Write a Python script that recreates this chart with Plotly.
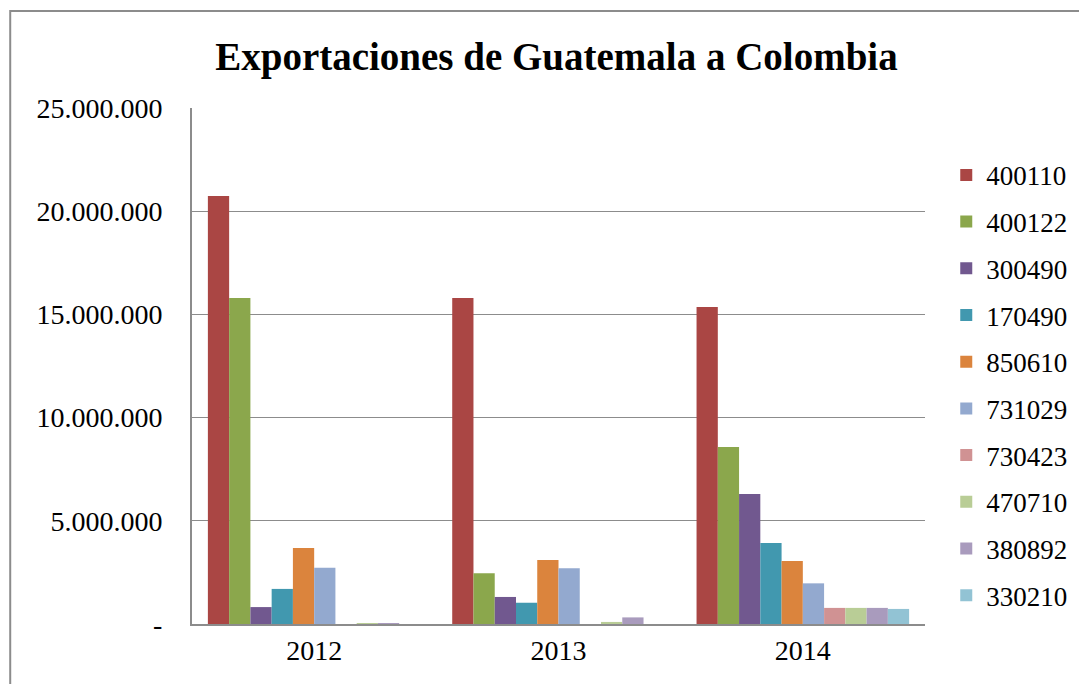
import plotly.graph_objects as go

# ── data ──
years = ["2012", "2013", "2014"]
codes = ["400110", "400122", "300490", "170490", "850610",
         "731029", "730423", "470710", "380892", "330210"]

v_400110 = [20740000, 15800000, 15360000]
v_400122 = [15790000, 2460000, 8580000]
v_300490 = [820000, 1310000, 6300000]
v_170490 = [1700000, 1030000, 3920000]
v_850610 = [3680000, 3100000, 3050000]
v_731029 = [2730000, 2700000, 1970000]
v_730423 = [0, 0, 780000]
v_470710 = [20000, 100000, 780000]
v_380892 = [15000, 320000, 780000]
v_330210 = [0, 0, 730000]

series = [v_400110, v_400122, v_300490, v_170490, v_850610,
          v_731029, v_730423, v_470710, v_380892, v_330210]

colors = ["#AA4644", "#8BA74C", "#71588F", "#4198AF", "#DB843D",
          "#93A9CF", "#D09293", "#B9CD96", "#A99BBD", "#92C3D4"]

y_ticks = [0, 5000000, 10000000, 15000000, 20000000, 25000000]
y_labels = ["-", "5.000.000", "10.000.000", "15.000.000", "20.000.000", "25.000.000"]

FONT = "Liberation Serif"

fig = go.Figure()
for i, (code, vals) in enumerate(zip(codes, series)):
    fig.add_trace(go.Bar(
        x=years, y=vals, name=code,
        marker=dict(color=colors[i], line=dict(width=0)),
        legendgroup=code,
    ))

# outer chart frame (Excel chart area border)
fig.add_shape(type="rect", xref="paper", yref="paper",
              x0=-0.248, x1=1.4, y0=-0.3, y1=1.188,
              line=dict(color="#8C8C8C", width=2), layer="below")

# page body has an 8px margin, so the figure is a bit smaller than the window
fig.update_layout(
    width=1079, height=676,
    paper_bgcolor="white", plot_bgcolor="white",
    margin=dict(l=184, r=162, t=100, b=60),
    barmode="group", bargap=0.13, bargroupgap=0,
    font=dict(family=FONT, size=28, color="#000000"),
    title=dict(text="<b>Exportaciones de Guatemala a Colombia</b>",
               x=0.5083, xanchor="center", y=0.928, yanchor="middle",
               font=dict(family=FONT, size=39, color="#000000")),
    legend=dict(x=1.029, xanchor="left", y=0.917, yanchor="top",
                font=dict(family=FONT, size=27, color="#000000"),
                tracegroupgap=8.6, itemwidth=30,
                bgcolor="rgba(0,0,0,0)"),
    showlegend=True,
)

fig.update_xaxes(showgrid=False, showline=True, linecolor="#8C8C8C", linewidth=2,
                 ticks="", automargin=False,
                 tickfont=dict(family=FONT, size=28, color="#000000"))
fig.update_yaxes(range=[0, 25000000], tickvals=y_ticks, ticktext=y_labels,
                 showgrid=True, gridcolor="#8C8C8C", gridwidth=1,
                 showline=True, linecolor="#8C8C8C", linewidth=2,
                 ticks="", ticklabelstandoff=22, automargin=False,
                 zeroline=False,
                 tickfont=dict(family=FONT, size=28, color="#000000"))

fig.write_html("out.html")
